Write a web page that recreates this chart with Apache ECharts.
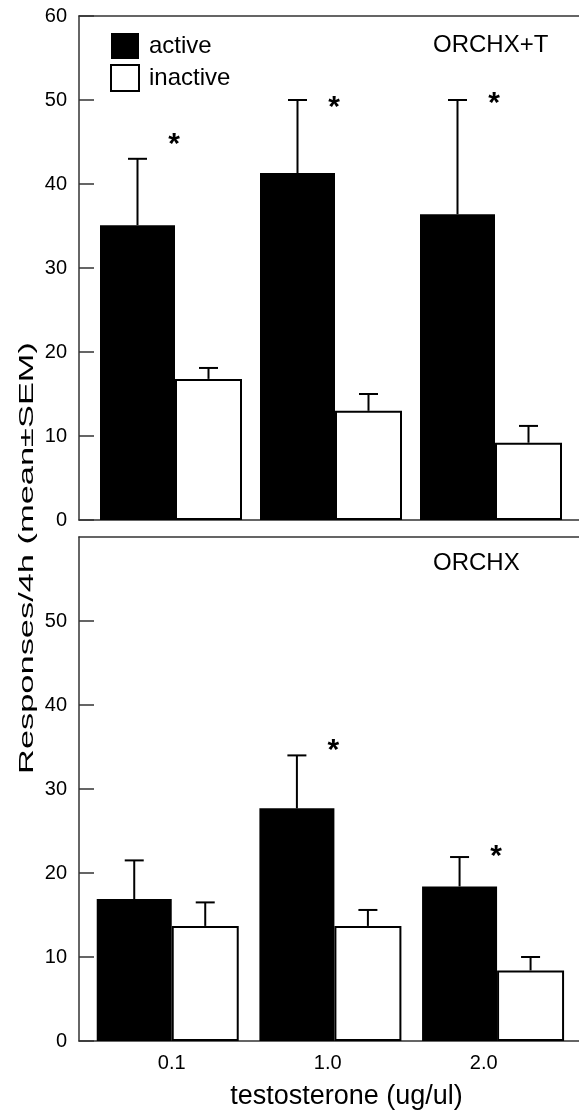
<!DOCTYPE html>
<html>
<head>
<meta charset="utf-8">
<script src="https://cdn.jsdelivr.net/npm/echarts@6/dist/echarts.min.js"></script>
<style>
html, body { margin: 0; padding: 0; background: #fff; }
#chart { width: 579px; height: 1112px; }
</style>
</head>
<body>
<div id="chart"></div>
<script>
// testosterone doses (x categories)
const doses = ['0.1', '1.0', '2.0'];

// ORCHX+T panel (top)
const topActive = [35.1, 41.3, 36.4];
const topActiveSem = [7.9, 8.7, 13.6];
const topInactive = [16.8, 13.0, 9.2];
const topInactiveSem = [1.3, 2.0, 2.0];
const topStars = [45.4, 49.8, 50.3];

// ORCHX panel (bottom)
const botActive = [16.9, 27.7, 18.4];
const botActiveSem = [4.6, 6.3, 3.5];
const botInactive = [13.7, 13.7, 8.4];
const botInactiveSem = [2.8, 1.9, 1.6];
const botStars = [null, 35.3, 22.6];

const font = "'Liberation Sans', Arial, sans-serif";
const lineCol = '#333';

// upper-only error bars (T shape)
function errorBars(xi, yi, means, sems, dx) {
    return {
        type: 'custom', xAxisIndex: xi, yAxisIndex: yi, z: 5, silent: true,
        data: means.map((m, i) => [i, m, m + sems[i]]),
        renderItem: function (params, api) {
            const base = api.coord([api.value(0), api.value(1)]);
            const top = api.coord([api.value(0), api.value(2)]);
            const x = base[0] + dx;
            return {
                type: 'group',
                children: [
                    { type: 'line', shape: { x1: x, y1: base[1], x2: x, y2: top[1] }, style: { stroke: '#000', lineWidth: 2 } },
                    { type: 'line', shape: { x1: x - 9.5, y1: top[1], x2: x + 9.5, y2: top[1] }, style: { stroke: '#000', lineWidth: 2 } }
                ]
            };
        }
    };
}

// significance stars
function stars(xi, yi, levels) {
    return {
        type: 'custom', xAxisIndex: xi, yAxisIndex: yi, z: 6, silent: true,
        data: levels.map((v, i) => [i, v]).filter(d => d[1] !== null),
        renderItem: function (params, api) {
            const p = api.coord([api.value(0), api.value(1)]);
            return {
                type: 'text', x: p[0] + 3, y: p[1] + 6,
                style: { text: '*', fontSize: 30, fontWeight: 'bold', fontFamily: font, fill: '#000', align: 'center', verticalAlign: 'middle' }
            };
        }
    };
}

function frameX(gi, pos) {
    return {
        type: 'value', gridIndex: gi, position: pos, min: 0, max: 1,
        axisLine: { show: true, lineStyle: { color: lineCol, width: 1.5 } },
        axisTick: { show: false }, axisLabel: { show: false }, splitLine: { show: false }
    };
}
function frameY(gi, showMax) {
    return {
        type: 'value', gridIndex: gi, min: 0, max: 60, interval: 10,
        axisLine: { show: true, lineStyle: { color: lineCol, width: 1.5 } },
        axisTick: { show: true, inside: true, length: 15, lineStyle: { color: lineCol, width: 1.5 } },
        axisLabel: { show: true, fontSize: 20, fontFamily: font, color: '#000', margin: 12, showMaxLabel: showMax },
        splitLine: { show: false }
    };
}
function hiddenX(gi, showLabels) {
    return {
        type: 'category', gridIndex: gi, data: doses,
        axisLine: { show: false }, axisTick: { show: false }, splitLine: { show: false },
        axisLabel: { show: showLabels, fontSize: 20, fontFamily: font, color: '#000', margin: 12 }
    };
}
function hiddenY(gi) {
    return { type: 'value', gridIndex: gi, min: 0, max: 60, show: false };
}

const chart = echarts.init(document.getElementById('chart'));
chart.setOption({
    animation: false,
    backgroundColor: '#fff',
    grid: [
        { left: 79, right: 0, top: 16, height: 504 },
        { left: 91, width: 480, top: 16, height: 504 },
        { left: 79, right: 0, top: 537, height: 504 },
        { left: 86.4, width: 488, top: 537, height: 504 },
        { left: 93.7, width: 468, top: 537, height: 504 }
    ],
    xAxis: [
        frameX(0, 'bottom'), frameX(0, 'top'), hiddenX(1, false),
        frameX(2, 'bottom'), frameX(2, 'top'), hiddenX(3, false),
        hiddenX(4, true)
    ],
    yAxis: [frameY(0, true), hiddenY(1), frameY(2, false), hiddenY(3), hiddenY(4)],
    legend: {
        data: ['active', 'inactive'], orient: 'vertical', left: 110, top: 33, padding: 0,
        itemWidth: 28, itemHeight: 26, itemGap: 5, selectedMode: false, icon: 'rect',
        textStyle: { fontSize: 24, fontFamily: font, color: '#000', padding: [0, 0, 0, 5] }
    },
    graphic: [
        { type: 'text', x: 433, y: 45, style: { text: 'ORCHX+T', fontSize: 24, fontFamily: font, fill: '#000', verticalAlign: 'middle' } },
        { type: 'text', x: 433, y: 563, style: { text: 'ORCHX', fontSize: 24, fontFamily: font, fill: '#000', verticalAlign: 'middle' } },
        { type: 'text', x: 346.5, y: 1097, style: { text: 'testosterone (ug/ul)', fontSize: 27, fontFamily: font, fill: '#000', align: 'center', verticalAlign: 'middle' } },
        { type: 'text', x: 27, y: 558, rotation: Math.PI / 2, scaleX: 1.72, style: { text: 'Responses/4h (mean±SEM)', fontSize: 20, fontFamily: font, fill: '#000', align: 'center', verticalAlign: 'middle' } }
    ],
    series: [
        { name: 'active', type: 'bar', xAxisIndex: 2, yAxisIndex: 1, barWidth: 75, barGap: 0, data: topActive, itemStyle: { color: '#000' } },
        { name: 'inactive', type: 'bar', xAxisIndex: 2, yAxisIndex: 1, barWidth: 67, barGap: 0, data: topInactive, itemStyle: { color: '#fff', borderColor: '#000', borderWidth: 2 } },
        { name: 'active', type: 'bar', xAxisIndex: 5, yAxisIndex: 3, barWidth: 75, barGap: 0, data: botActive, itemStyle: { color: '#000' } },
        { name: 'inactive', type: 'bar', xAxisIndex: 5, yAxisIndex: 3, barWidth: 67, barGap: 0, data: botInactive, itemStyle: { color: '#fff', borderColor: '#000', borderWidth: 2 } },
        errorBars(2, 1, topActive, topActiveSem, -33.5),
        errorBars(2, 1, topInactive, topInactiveSem, 37.5),
        errorBars(5, 3, botActive, botActiveSem, -33.5),
        errorBars(5, 3, botInactive, botInactiveSem, 37.5),
        stars(2, 1, topStars),
        stars(5, 3, botStars)
    ]
});
</script>
</body>
</html>
